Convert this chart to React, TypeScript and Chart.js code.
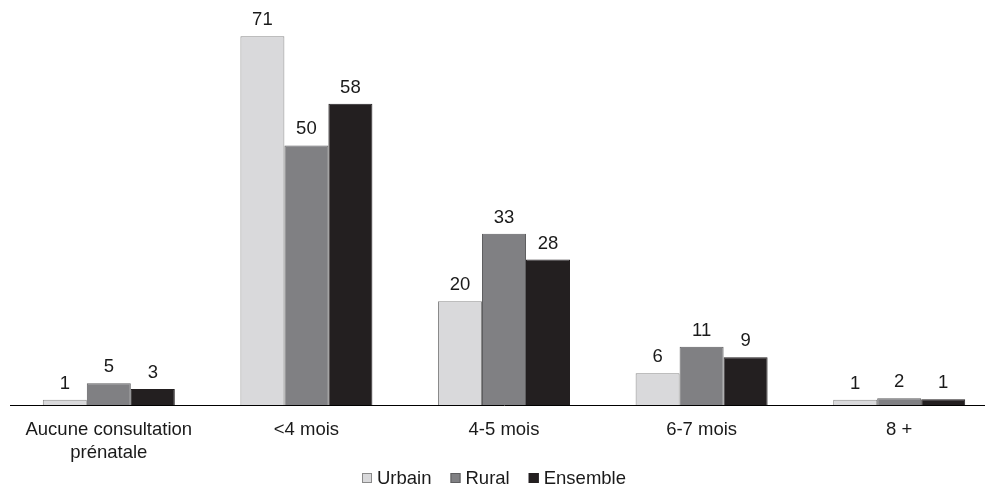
import React, { useEffect, useRef } from "react";
import { Chart, registerables } from "chart.js";

Chart.register(...registerables);

const categories: (string | string[])[] = [
  ["Aucune consultation", "prénatale"],
  "<4 mois",
  "4-5 mois",
  "6-7 mois",
  "8 +",
];
// bar heights
const urbain = [1, 71, 20, 6.1, 1];
const rural = [4.2, 50, 33, 11.2, 1.3];
const ensemble = [3.1, 58, 28, 9.2, 1.1];
// printed value labels
const urbainLabels = ["1", "71", "20", "6", "1"];
const ruralLabels = ["5", "50", "33", "11", "2"];
const ensembleLabels = ["3", "58", "28", "9", "1"];
const seriesNames = ["Urbain", "Rural", "Ensemble"];
const fills = ["#d9d9db", "#808083", "#231f20"];
const borders = ["#8a8a8a", "#5e5e60", "#231f20"];

const FONT = "'Liberation Sans', Arial, sans-serif";
const FS = 18.5;

const labelsPlugin = {
  id: "valueLabels",
  afterDatasetsDraw(chart: any) {
    const ctx = chart.ctx;
    const all = [urbainLabels, ruralLabels, ensembleLabels];
    ctx.save();
    ctx.font = `${FS}px ${FONT}`;
    ctx.fillStyle = "#1a1a1a";
    ctx.textAlign = "center";
    ctx.textBaseline = "middle";
    chart.data.datasets.forEach((ds: any, di: number) => {
      const meta = chart.getDatasetMeta(di);
      meta.data.forEach((bar: any, i: number) => {
        ctx.fillText(all[di][i], bar.x, bar.y - 16);
      });
    });
    ctx.restore();
  },
  afterDraw(chart: any) {
    const ctx = chart.ctx;
    ctx.save();
    ctx.font = `${FS}px ${FONT}`;
    ctx.textBaseline = "middle";
    const box = 10;
    const gapText = 5;
    const gapItem = 19;
    const widths = seriesNames.map((n) => box + gapText + ctx.measureText(n).width);
    const total = widths.reduce((a, b) => a + b, 0) + gapItem * (widths.length - 1);
    let x = 494 - total / 2;
    const y = 478;
    seriesNames.forEach((n, i) => {
      ctx.fillStyle = fills[i];
      ctx.fillRect(x, y - box / 2, box, box);
      ctx.strokeStyle = borders[i];
      ctx.lineWidth = 1;
      ctx.strokeRect(x + 0.5, y - box / 2 + 0.5, box - 1, box - 1);
      ctx.fillStyle = "#1a1a1a";
      ctx.textAlign = "left";
      ctx.fillText(n, x + box + gapText, y + 1);
      x += widths[i] + gapItem;
    });
    ctx.restore();
  },
};

export default function App() {
  const ref = useRef<HTMLCanvasElement>(null);
  useEffect(() => {
    document.body.style.margin = "0";
    document.body.style.overflow = "hidden";
    const series = [urbain, rural, ensemble];
    const chart = new Chart(ref.current!, {
      type: "bar",
      data: {
        labels: categories,
        datasets: series.map((d, i) => ({
          label: seriesNames[i],
          data: d,
          backgroundColor: fills[i],
          borderColor: borders[i],
          borderWidth: 1,
          categoryPercentage: 0.668,
          barPercentage: 1,
        })),
      },
      options: {
        responsive: false,
        animation: false,
        layout: { padding: { left: 10, right: 0, top: 0, bottom: 0 } },
        plugins: { legend: { display: false }, tooltip: { enabled: false } },
        scales: {
          x: {
            grid: { display: false, drawTicks: false },
            border: { display: true, color: "#000", width: 1 },
            ticks: {
              color: "#1a1a1a",
              font: { size: FS, family: FONT, lineHeight: 1.22 },
              padding: 14,
              maxRotation: 0,
              autoSkip: false,
            },
            afterFit: (axis: any) => {
              axis.height = 81;
            },
          },
          y: { display: false, min: 0, max: 78 },
        },
      },
      plugins: [labelsPlugin],
    });
    return () => chart.destroy();
  }, []);
  return (
    <div style={{ width: 985, height: 486, overflow: "hidden" }}>
      <canvas ref={ref} width={998} height={486} style={{ width: 998, height: 486 }} />
    </div>
  );
}
